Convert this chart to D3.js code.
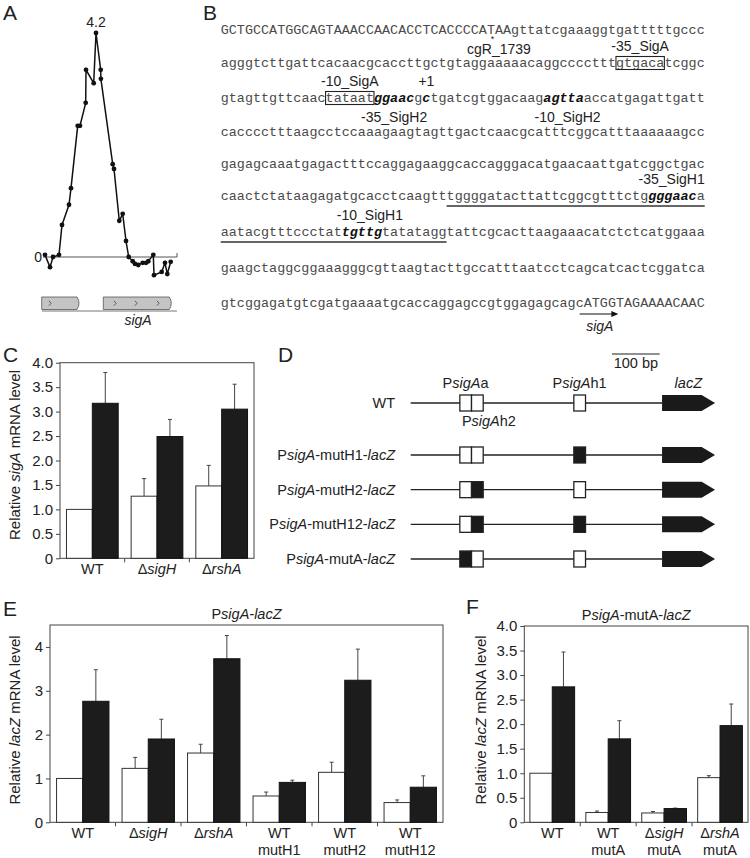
<!DOCTYPE html>
<html>
<head>
<meta charset="utf-8">
<script src="https://cdn.jsdelivr.net/npm/d3@7"></script>
<style>
  body { margin: 0; background: #fff; }
  svg { display: block; font-family: 'Liberation Sans', Arial, Helvetica, sans-serif; }
</style>
</head>
<body>
<div id="fig"></div>
<script>
// ---------- data ----------
// A: expression profile around sigA (relative position, log ratio)
const profilePos = [0, 5, 8, 14, 17, 24, 26, 32.7, 35, 40.7, 41, 48.7, 51, 55.7, 55.9, 67.7, 69, 74.3, 77.7, 81, 83.7, 87.7, 90, 93.3, 97.7, 101, 103.3, 108.3, 109, 116.7, 120, 122.3, 125.7];
const profileVal = [0.04, -0.19, 0.0, 0.04, 0.6, 0.98, 1.29, 2.46, 2.46, 2.89, 3.51, 3.26, 4.2, 3.51, 3.34, 1.74, 1.65, 0.68, 0.81, 0.30, 0, -0.08, -0.13, -0.15, -0.11, -0.11, -0.08, 0.04, -0.34, -0.28, -0.11, -0.32, -0.09];
const genes = [[-3.3, 36], [58.3, 128.3]];
const geneChevrons = [5, 70, 91, 113];

// B: promoter sequence
const seqRows = [
  'GCTGCCATGGCAGTAAACCAACACCTCACCCCATAAgttatcgaaaggtgatttttgccc',
  'agggtcttgattcacaacgcaccttgctgtaggaaaaacaggcccctttgtgacatcggc',
  'gtagttgttcaactataatggaacgctgatcgtggacaagagttaaccatgagattgatt',
  'cacccctttaagcctccaaagaagtagttgactcaacgcatttcggcatttaaaaaagcc',
  'gagagcaaatgagactttccaggagaaggcaccagggacatgaacaattgatcggctgac',
  'caactctataagagatgcacctcaagtttggggatacttattcggcgtttctggggaaca',
  'aatacgtttccctattgttgtatataggtattcgcacttaagaaacatctctcatggaaa',
  'gaagctaggcggaaagggcgttaagtacttgccatttaatcctcagcatcactcggatca',
  'gtcggagatgtcgatgaaaatgcaccaggagccgtggagagcagcATGGTAGAAAACAAC'
];
const boldMotifs = [[2, 19, 24], [2, 25, 26], [2, 40, 45], [5, 53, 59], [6, 15, 20]];
const boxedMotifs = [[1, 49, 55], [2, 13, 19]];
const underlined = [[5, 28, 60], [6, 0, 28]];
// [text, row, char index of centre, 'above' | 'below', anchor]
const seqLabels = [
  ['cgR_1739', 0, 34.5, 'below', 'middle'],
  ['-35_SigA', 1, 52, 'above', 'middle'],
  ['-10_SigA', 2, 16, 'above', 'middle'],
  ['+1', 2, 25.5, 'above', 'middle'],
  ['-35_SigH2', 2, 21.5, 'below', 'middle'],
  ['-10_SigH2', 2, 43, 'below', 'middle'],
  ['-35_SigH1', 5, 60, 'above', 'end'],
  ['-10_SigH1', 6, 18.5, 'above', 'middle']
];

// C: sigA mRNA
const groupsC = ['WT', 'Δ*sigH*', 'Δ*rshA*'];
const cWhite = [1.0, 1.27, 1.48];
const cWhiteErr = [1.0, 1.63, 1.90];
const cBlack = [3.17, 2.49, 3.05];
const cBlackErr = [3.80, 2.84, 3.56];
const ticksC = [0, 0.5, 1.0, 1.5, 2.0, 2.5, 3.0, 3.5, 4.0];

// D: constructs
const constructs = ['WT', 'P*sigA*-mutH1-*lacZ*', 'P*sigA*-mutH2-*lacZ*', 'P*sigA*-mutH12-*lacZ*', 'P*sigA*-mutA-*lacZ*'];
const mutA = [0, 0, 0, 0, 1];
const mutH2 = [0, 0, 1, 1, 0];
const mutH1 = [0, 1, 0, 1, 0];

// E: PsigA-lacZ
const groupsE = ['WT', 'Δ*sigH*', 'Δ*rshA*', 'WT\nmutH1', 'WT\nmutH2', 'WT\nmutH12'];
const eWhite = [1.0, 1.23, 1.58, 0.60, 1.14, 0.45];
const eWhiteErr = [1.0, 1.48, 1.78, 0.69, 1.37, 0.51];
const eBlack = [2.76, 1.90, 3.73, 0.91, 3.24, 0.80];
const eBlackErr = [3.48, 2.35, 4.26, 0.96, 3.95, 1.06];
const ticksE = [0, 1, 2, 3, 4];

// F: PsigA-mutA-lacZ
const groupsF = ['WT', 'WT\nmutA', 'Δ*sigH*\nmutA', 'Δ*rshA*\nmutA'];
const fWhite = [1.0, 0.20, 0.19, 0.91];
const fWhiteErr = [1.0, 0.23, 0.22, 0.95];
const fBlack = [2.76, 1.70, 0.28, 1.97];
const fBlackErr = [3.47, 2.07, 0.29, 2.41];

// ---------- setup ----------
const width = 750;
const height = 858;
const lineColor = '#444';
const textColor = '#222';
const sansFont = "'Liberation Sans', Arial, sans-serif";

const svg = d3.select('#fig').append('svg')
    .attr('width', width)
    .attr('height', height);

// '*' toggles italic
function richText(sel, str) {
    str.split('*').forEach((part, i) => {
        if (!part) return;
        const t = sel.append('tspan').text(part);
        if (i % 2) t.attr('font-style', 'italic');
    });
    return sel;
}

function panelLabel(txt, x, y) {
    svg.append('text').attr('x', x).attr('y', y)
        .attr('font-size', 21).attr('fill', textColor).text(txt);
}

// ---------- A ----------
panelLabel('A', 3, 20);
const gA = svg.append('g');
const xA = d3.scaleLinear().domain([0, 130]).range([45, 175]);
const yA = d3.scaleLinear().domain([0, 4.2]).range([257, 33]);

gA.append('line')
    .attr('x1', xA(-2)).attr('x2', xA(132))
    .attr('y1', yA(0)).attr('y2', yA(0))
    .attr('stroke', '#555').attr('stroke-width', 1);
gA.append('line')
    .attr('x1', xA(132)).attr('x2', xA(132))
    .attr('y1', yA(0)).attr('y2', yA(0) - 4)
    .attr('stroke', '#555');

gA.append('text').attr('x', xA(-3)).attr('y', yA(0) + 5)
    .attr('text-anchor', 'end').attr('font-size', 14).attr('fill', textColor).text('0');

const profile = profilePos.map((p, i) => [p, profileVal[i]]);
gA.append('path')
    .datum(profile)
    .attr('fill', 'none')
    .attr('stroke', '#111')
    .attr('stroke-width', 1.5)
    .attr('d', d3.line().x(d => xA(d[0])).y(d => yA(d[1])));
gA.selectAll('.pt').data(profile).enter().append('circle')
    .attr('class', 'pt')
    .attr('cx', d => xA(d[0]))
    .attr('cy', d => yA(d[1]))
    .attr('r', 2.4)
    .attr('fill', '#111');

const peak = profile[d3.maxIndex(profileVal)];
gA.append('text').attr('x', xA(peak[0])).attr('y', yA(peak[1]) - 6)
    .attr('text-anchor', 'middle').attr('font-size', 14).attr('fill', textColor)
    .text(d3.format('.1f')(peak[1]));

// gene track
const geneTop = 297, geneBot = 309.5;
gA.append('line')
    .attr('x1', xA(-3)).attr('x2', xA(132))
    .attr('y1', 311).attr('y2', 311)
    .attr('stroke', '#777').attr('stroke-width', 1.2);
gA.selectAll('.gene').data(genes).enter().append('path')
    .attr('class', 'gene')
    .attr('d', d => {
        const s = xA(d[0]), e = xA(d[1]), m = (geneTop + geneBot) / 2;
        return `M${s},${geneTop}L${e - 4},${geneTop}Q${e},${m} ${e - 4},${geneBot}L${s},${geneBot}Z`;
    })
    .attr('fill', '#c4c4c4')
    .attr('stroke', '#555')
    .attr('stroke-width', 0.8);
gA.selectAll('.chev').data(geneChevrons).enter().append('path')
    .attr('class', 'chev')
    .attr('d', d => {
        const x = xA(d), m = (geneTop + geneBot) / 2;
        return `M${x - 1.2},${m - 2.5}L${x + 1.2},${m}L${x - 1.2},${m + 2.5}`;
    })
    .attr('fill', 'none').attr('stroke', '#444').attr('stroke-width', 0.8);
gA.append('text').attr('x', xA(93)).attr('y', 325)
    .attr('text-anchor', 'middle').attr('font-size', 14).attr('font-style', 'italic')
    .attr('fill', textColor).text('sigA');

// ---------- B ----------
panelLabel('B', 203, 20);
const gB = svg.append('g');
const seqX0 = 220.7;
const seqW = 484;
const cw = seqW / 60;
const rowY = [30, 63, 98, 132, 164, 196, 232, 268, 303];
const seqFont = "'Courier New', 'Liberation Mono', monospace";
const cx = i => seqX0 + i * cw;

seqRows.forEach((row, r) => {
    // split row into plain / bold segments
    const bolds = boldMotifs.filter(m => m[0] === r).sort((a, b) => a[1] - b[1]);
    const segs = [];
    let pos = 0;
    bolds.forEach(b => {
        if (b[1] > pos) segs.push([pos, b[1], false]);
        segs.push([b[1], b[2], true]);
        pos = b[2];
    });
    if (pos < row.length) segs.push([pos, row.length, false]);
    segs.forEach(s => {
        gB.append('text')
            .attr('x', cx(s[0]))
            .attr('y', rowY[r] + 4)
            .attr('font-family', seqFont)
            .attr('font-size', 13.4)
            .attr('font-weight', s[2] ? 'bold' : null)
            .attr('font-style', s[2] ? 'italic' : null)
            .attr('fill', s[2] ? '#111' : '#4a4a4a')
            .attr('textLength', (s[1] - s[0]) * cw)
            .attr('lengthAdjust', 'spacing')
            .text(row.slice(s[0], s[1]));
    });
});

gB.selectAll('.box').data(boxedMotifs).enter().append('rect')
    .attr('class', 'box')
    .attr('x', d => cx(d[1]))
    .attr('y', d => rowY[d[0]] - 6.5)
    .attr('width', d => (d[2] - d[1]) * cw)
    .attr('height', 13)
    .attr('fill', 'none').attr('stroke', '#222').attr('stroke-width', 1.1);

gB.selectAll('.ul').data(underlined).enter().append('line')
    .attr('class', 'ul')
    .attr('x1', d => cx(d[1])).attr('x2', d => cx(d[2]))
    .attr('y1', d => rowY[d[0]] + 10).attr('y2', d => rowY[d[0]] + 10)
    .attr('stroke', '#333').attr('stroke-width', 1.6);

gB.selectAll('.lab').data(seqLabels).enter().append('text')
    .attr('class', 'lab')
    .attr('x', d => cx(d[2]))
    .attr('y', d => d[3] === 'above' ? rowY[d[1]] - 12 : rowY[d[1]] + 24)
    .attr('text-anchor', d => d[4])
    .attr('font-size', 14)
    .attr('fill', textColor)
    .text(d => d[0]);

// transcription start asterisk above cgR_1739
gB.append('text').attr('x', cx(33.7)).attr('y', rowY[0] + 12)
    .attr('text-anchor', 'middle').attr('font-size', 9).attr('fill', textColor).text('*');

// sigA start codon arrow
const atg = seqRows[8].indexOf('ATG');
gB.append('line')
    .attr('x1', cx(atg - 0.5)).attr('x2', cx(atg + 3.6))
    .attr('y1', rowY[8] + 11).attr('y2', rowY[8] + 11)
    .attr('stroke', '#111').attr('stroke-width', 1.2);
gB.append('path')
    .attr('d', `M${cx(atg + 4.3)},${rowY[8] + 11}l-7,-3l0,6z`)
    .attr('fill', '#111');
gB.append('text').attr('x', cx(atg + 2)).attr('y', rowY[8] + 28)
    .attr('text-anchor', 'middle').attr('font-size', 14).attr('font-style', 'italic')
    .attr('fill', textColor).text('sigA');

// ---------- bar chart helper ----------
function barPanel(o) {
    const g = svg.append('g');
    const x = d3.scaleBand().domain(o.groups).range([o.left, o.right])
        .paddingInner(0.2).paddingOuter(0.1);
    const y = d3.scaleLinear().domain([0, o.max]).range([o.bottom, o.top]);
    const bw = x.bandwidth() / 2;

    g.append('rect')
        .attr('x', o.left).attr('y', y(o.max))
        .attr('width', o.right - o.left).attr('height', o.bottom - y(o.max))
        .attr('fill', 'none').attr('stroke', lineColor).attr('stroke-width', 1);

    const yAxis = g.append('g')
        .attr('transform', `translate(${o.left},0)`)
        .call(d3.axisLeft(y).tickValues(o.ticks).tickSize(4).tickPadding(3)
            .tickFormat(d => d === 0 ? '0' : o.fmt(d)));
    yAxis.attr('font-family', sansFont);
    yAxis.select('.domain').remove();
    yAxis.selectAll('line').attr('stroke', lineColor);
    yAxis.selectAll('text').attr('font-size', 15).attr('fill', textColor);

    // group separator ticks
    g.selectAll('.sep').data(o.groups.slice(1)).enter().append('line')
        .attr('x1', d => x(d) - x.step() * 0.1).attr('x2', d => x(d) - x.step() * 0.1)
        .attr('y1', o.bottom).attr('y2', o.bottom + 4)
        .attr('stroke', lineColor);

    const series = [
        { vals: o.white, errs: o.whiteErr, off: 0, fill: '#fff', stroke: '#333' },
        { vals: o.black, errs: o.blackErr, off: bw, fill: '#1c1c1c', stroke: '#111' }
    ];
    series.forEach(s => {
        o.groups.forEach((grp, i) => {
            const bx = x(grp) + s.off;
            const mid = bx + bw / 2;
            if (s.errs[i] > s.vals[i]) {
                g.append('line')
                    .attr('x1', mid).attr('x2', mid)
                    .attr('y1', y(s.vals[i])).attr('y2', y(s.errs[i]))
                    .attr('stroke', lineColor).attr('stroke-width', 1);
                g.append('line')
                    .attr('x1', mid - 2).attr('x2', mid + 2)
                    .attr('y1', y(s.errs[i])).attr('y2', y(s.errs[i]))
                    .attr('stroke', lineColor).attr('stroke-width', 1);
            }
            g.append('rect')
                .attr('x', bx).attr('y', y(s.vals[i]))
                .attr('width', bw).attr('height', o.bottom - y(s.vals[i]))
                .attr('fill', s.fill).attr('stroke', s.stroke).attr('stroke-width', 1);
        });
    });

    o.groups.forEach(grp => {
        grp.split('\n').forEach((line, k) => {
            const t = g.append('text')
                .attr('x', x(grp) + x.bandwidth() / 2)
                .attr('y', o.bottom + 16 + k * 16.5)
                .attr('text-anchor', 'middle').attr('font-size', 14.5).attr('fill', textColor);
            richText(t, line);
        });
    });

    const yl = g.append('text')
        .attr('transform', `translate(${o.ylabelX},${o.ylabelY}) rotate(-90)`)
        .attr('text-anchor', 'middle').attr('font-size', 15).attr('fill', textColor);
    richText(yl, o.ylabel);

    if (o.title) {
        const t = g.append('text')
            .attr('x', (o.left + o.right) / 2).attr('y', o.top - 6)
            .attr('text-anchor', 'middle').attr('font-size', 14.5).attr('fill', textColor);
        richText(t, o.title);
    }
}

// ---------- C ----------
panelLabel('C', 3, 362);
barPanel({
    groups: groupsC, white: cWhite, whiteErr: cWhiteErr, black: cBlack, blackErr: cBlackErr,
    left: 60, right: 254, top: 362.7, bottom: 558.3, max: 4.0, ticks: ticksC,
    fmt: d3.format('.1f'), ylabel: 'Relative *sigA* mRNA level', ylabelX: 20, ylabelY: 455
});

// ---------- D ----------
panelLabel('D', 278, 362);
const gD = svg.append('g');
const dX0 = 410.7;
const bp = d3.scaleLinear().domain([0, 100]).range([dX0, dX0 + 47.7]);
const rowD = d3.scalePoint().domain(constructs.slice(1)).range([455, 559]);
const yD = (c, i) => i === 0 ? 403 : rowD(c);

// scale bar
gD.append('line').attr('x1', bp(422)).attr('x2', bp(522)).attr('y1', 354).attr('y2', 354)
    .attr('stroke', '#222').attr('stroke-width', 1.2);
gD.append('text').attr('x', bp(472)).attr('y', 368).attr('text-anchor', 'middle')
    .attr('font-size', 14.5).attr('fill', textColor).text('100 bp');

constructs.forEach((c, i) => {
    const yy = yD(c, i);
    const lab = gD.append('text').attr('x', 395).attr('y', yy + 5)
        .attr('text-anchor', 'end').attr('font-size', 14.5).attr('fill', textColor);
    richText(lab, c);
    gD.append('line').attr('x1', bp(0)).attr('x2', bp(527)).attr('y1', yy).attr('y2', yy)
        .attr('stroke', '#222').attr('stroke-width', 1.4);
    const sites = [[103, mutA[i]], [127.5, mutH2[i]], [342, mutH1[i]]];
    sites.forEach(s => {
        gD.append('rect')
            .attr('x', bp(s[0])).attr('y', yy - 8)
            .attr('width', bp(24.5) - bp(0)).attr('height', 16)
            .attr('fill', s[1] ? '#1a1a1a' : '#fff')
            .attr('stroke', '#222').attr('stroke-width', 1.3);
    });
    gD.append('path')
        .attr('d', `M${bp(527)},${yy - 8}L${bp(610)},${yy - 8}L${bp(638)},${yy}L${bp(610)},${yy + 8}L${bp(527)},${yy + 8}Z`)
        .attr('fill', '#1a1a1a');
});
const wtY = yD(constructs[0], 0);
[['P*sigA*a', 115, wtY - 15], ['P*sigA*h1', 354, wtY - 15], ['P*sigA*h2', 164, wtY + 23]].forEach(l => {
    const t = gD.append('text').attr('x', bp(l[1])).attr('y', l[2])
        .attr('text-anchor', 'middle').attr('font-size', 14.5).attr('fill', textColor);
    richText(t, l[0]);
});
gD.append('text').attr('x', bp(582)).attr('y', wtY - 15).attr('text-anchor', 'middle')
    .attr('font-size', 14.5).attr('font-style', 'italic').attr('fill', textColor).text('lacZ');

// ---------- E ----------
panelLabel('E', 3, 616);
barPanel({
    groups: groupsE, white: eWhite, whiteErr: eWhiteErr, black: eBlack, blackErr: eBlackErr,
    left: 50, right: 443, top: 625, bottom: 822.3, max: 4.5, ticks: ticksE,
    fmt: d3.format('d'), ylabel: 'Relative *lacZ* mRNA level', ylabelX: 20, ylabelY: 720,
    title: 'P*sigA-lacZ*'
});

// ---------- F ----------
panelLabel('F', 466, 614);
barPanel({
    groups: groupsF, white: fWhite, whiteErr: fWhiteErr, black: fBlack, blackErr: fBlackErr,
    left: 524.3, right: 748, top: 626, bottom: 822.3, max: 4.0, ticks: ticksC,
    fmt: d3.format('.1f'), ylabel: 'Relative *lacZ* mRNA level', ylabelX: 486, ylabelY: 720,
    title: 'P*sigA*-mutA-*lacZ*'
});
</script>
</body>
</html>
